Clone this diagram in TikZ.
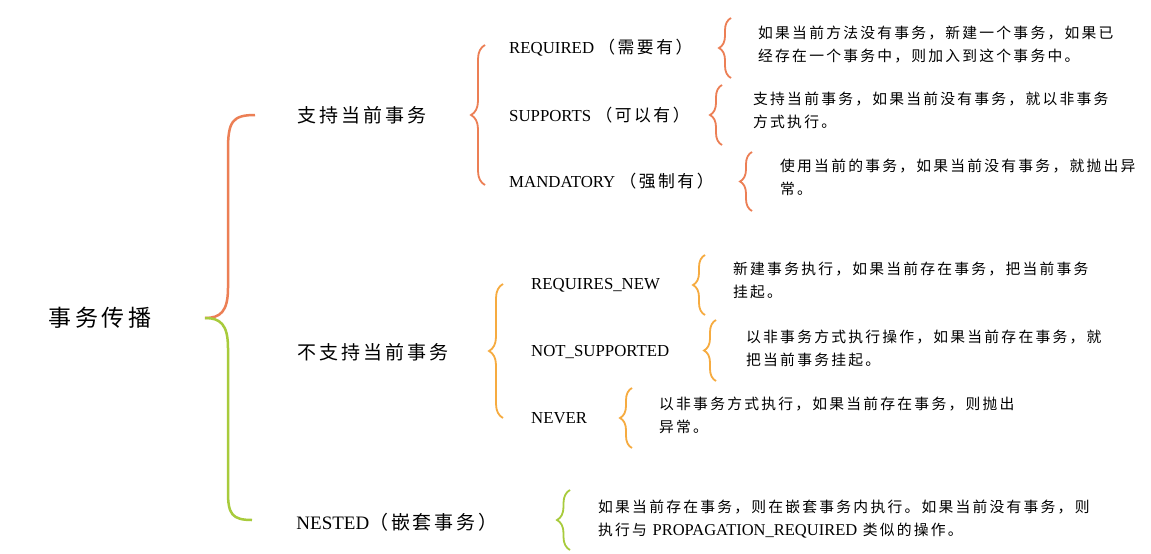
\documentclass[tikz,border=0pt]{standalone}
\usepackage{fontspec}
\setmainfont{Liberation Serif}
\newfontfamily\cjk[LetterSpace=15]{Noto Sans CJK SC}
\usetikzlibrary{decorations.pathreplacing}
\definecolor{orA}{HTML}{EC7F55}
\definecolor{orB}{HTML}{F6AB40}
\definecolor{grC}{HTML}{A8CB3C}
\tikzset{
 br/.style={decorate,decoration={brace,amplitude=#1},line width=1.8pt},
 lbl/.style={anchor=west,font=\fontsize{16.8}{18}\selectfont,inner sep=0},
 desc/.style={anchor=north west,font=\cjk\fontsize{14.8}{22.5}\selectfont,inner sep=0,align=left},
 cat/.style={anchor=center,font=\cjk\fontsize{19}{22}\selectfont,inner sep=0}
}
\begin{document}
\begin{tikzpicture}[x=1pt,y=-1pt]
\useasboundingbox (0,0) rectangle (1151,554);
\fill[white] (0,0) rectangle (1151,554);
\node[cat,font=\cjk\fontsize{23}{26}\selectfont] (root) at (100,318) {事务传播};
\draw[orA,line width=2.5pt] (255,115) .. controls (232,115) and (228,122) .. (228,150) -- (228,288) .. controls (228,312) and (220,318) .. (205,318);
\draw[grC,line width=2.5pt] (205,318) .. controls (220,318) and (228,324) .. (228,348) -- (228,492) .. controls (228,514) and (232,520) .. (252,520);
\node[cat] (s) at (362,115) {支持当前事务};
\node[cat] (ns) at (373,352) {不支持当前事务};
\node[cat,font=\fontsize{19}{22}\selectfont] (n) at (397,522) {NESTED{\cjk（嵌套事务）}};
% braces level 2
\draw[orA,br=14pt] (485,185) -- (485,45);
\draw[orB,br=14pt] (503,418) -- (503,284);
\draw[grC,br=13pt] (570,550) -- (570,490);
% group 1
\node[lbl] (r1) at (509,48) {REQUIRED {\cjk（需要有）}};
\node[lbl] (r2) at (509,115) {SUPPORTS {\cjk（可以有）}};
\node[lbl] (r3) at (509,181) {MANDATORY {\cjk（强制有）}};
\draw[orA,br=12pt] (731,78) -- (731,18);
\draw[orA,br=12pt] (722,145) -- (722,85);
\draw[orA,br=12pt] (752,211) -- (752,152);
\node[desc] (d1) at (758,26) {如果当前方法没有事务，新建一个事务，如果已\\经存在一个事务中，则加入到这个事务中。};
\node[desc] (d2) at (753,92) {支持当前事务，如果当前没有事务，就以非事务\\方式执行。};
\node[desc] (d3) at (780,159) {使用当前的事务，如果当前没有事务，就抛出异\\常。};
% group 2
\node[lbl] (q1) at (531,285) {REQUIRES\_NEW};
\node[lbl] (q2) at (531,352) {NOT\_SUPPORTED};
\node[lbl] (q3) at (531,418) {NEVER};
\draw[orB,br=12pt] (705,315) -- (705,255);
\draw[orB,br=12pt] (716,381) -- (716,320);
\draw[orB,br=12pt] (632,448) -- (632,388);
\node[desc] (e1) at (733,262) {新建事务执行，如果当前存在事务，把当前事务\\挂起。};
\node[desc] (e2) at (746,330) {以非事务方式执行操作，如果当前存在事务，就\\把当前事务挂起。};
\node[desc] (e3) at (659,397) {以非事务方式执行，如果当前存在事务，则抛出\\异常。};
% nested
\node[desc] (f1) at (598,500) {如果当前存在事务，则在嵌套事务内执行。如果当前没有事务，则\\执行与 {\rmfamily\fontsize{16.5}{22.5}\selectfont PROPAGATION\_REQUIRED} 类似的操作。};
\end{tikzpicture}
\end{document}
